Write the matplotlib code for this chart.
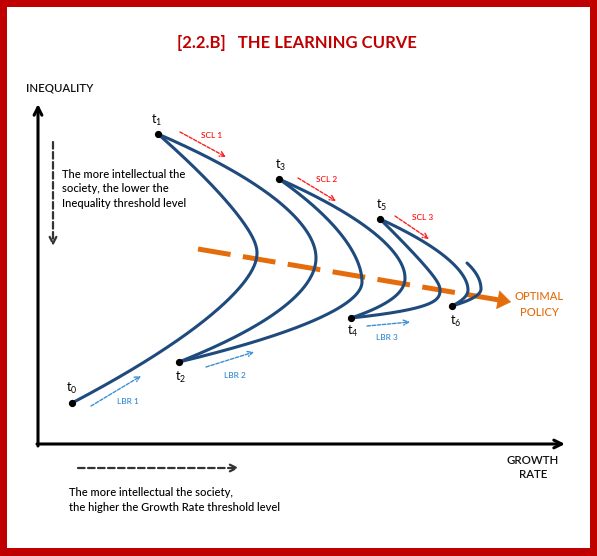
import numpy as np
import matplotlib
matplotlib.use('Agg')
import matplotlib.pyplot as plt
from matplotlib.patches import Rectangle

# ---- diagram data (screen-space coordinates of the conceptual diagram) ----
node_names = ['0', '1', '2', '3', '4', '5', '6']
node_x = [72, 158, 179, 279, 351, 380, 452]
node_y = [403, 134, 362, 179, 318, 219, 306]
# turning points (right-most point) of each learning-curve segment
bulge_x = [257, 316, 362, 405, 440, 468, 481]
bulge_y = [253, 258, 282, 278, 290, 290, 289]
tail_x, tail_y = 467, 263
# curvature shape of each segment near its start node / end node
p_start = [1.5, 1.8, 1.8, 1.75, 3.0, 1.75, 2.0]
p_end = [1.3, 1.9, 1.75, 2.2, 1.1, 2.0, 2.0]
label_dx = [0, -1, 2, 2, 2, 2, 4]
label_dy = [-15, -14, 15, -14, 13, -14, 15]

scl_labels = ['SCL 1', 'SCL 2', 'SCL 3']
scl_start = [(180, 132), (298, 178), (395, 216)]
scl_end = [(226, 157), (336, 201), (429, 239)]
scl_text = [(212, 135), (327, 179), (423, 218)]

lbr_labels = ['LBR 1', 'LBR 2', 'LBR 3']
lbr_start = [(91, 406), (206, 367), (367, 326)]
lbr_end = [(141, 376), (254, 352), (410, 322)]
lbr_text = [(128, 402), (235, 375), (387, 337)]

policy_start = (198, 249)
policy_end = (511, 302)

W, H = 597, 556
FONT = 'Lato'
plt.rcParams['font.family'] = [FONT, 'DejaVu Sans']

fig = plt.figure(figsize=(W / 100, H / 100), dpi=100)
ax = fig.add_axes([0, 0, 1, 1])
ax.set_xlim(0, W)
ax.set_ylim(H, 0)
ax.axis('off')

red = '#C00000'
navy = '#1F4A7D'
orange = '#E46C0A'
blue = '#3A8FD4'
txt_w = 'medium'

# frame
ax.add_patch(Rectangle((0, 0), W, H, facecolor=red, edgecolor='none', zorder=0))
ax.add_patch(Rectangle((7, 7), W - 14, H - 15, facecolor='white', edgecolor='none', zorder=0.5))

# title
ax.text(297, 43, '[2.2.B]   THE LEARNING CURVE', ha='center', va='center',
        fontsize=12, fontweight='bold', color=red)

# axes arrows
ax.annotate('', xy=(38, 104), xytext=(38, 446),
            arrowprops=dict(arrowstyle='->', lw=2.2, color='black', mutation_scale=14,
                            shrinkA=0, shrinkB=0))
ax.annotate('', xy=(565, 444), xytext=(37, 444),
            arrowprops=dict(arrowstyle='->', lw=2.2, color='black', mutation_scale=14,
                            shrinkA=0, shrinkB=0))
ax.text(26, 88, 'INEQUALITY', ha='left', va='center', fontsize=8.2, color='#111111',
        fontweight='semibold')
ax.text(533, 460, 'GROWTH', ha='center', va='center', fontsize=8.2, color='#111111',
        fontweight='semibold')
ax.text(533, 475, 'RATE', ha='center', va='center', fontsize=8.2, color='#111111',
        fontweight='semibold')

# threshold arrows
ax.annotate('', xy=(53, 246), xytext=(53, 142),
            arrowprops=dict(arrowstyle='->', lw=1.6, ls=(0, (3, 1.5)), color='#333333',
                            mutation_scale=12, shrinkA=0, shrinkB=0))
ax.annotate('', xy=(239, 468), xytext=(78, 468),
            arrowprops=dict(arrowstyle='->', lw=1.6, ls=(0, (3, 1.5)), color='#333333',
                            mutation_scale=12, shrinkA=0, shrinkB=0))
ax.text(62, 189, 'The more intellectual the\nsociety, the lower the\nInequality threshold level',
        ha='left', va='center', fontsize=8, color='black', linespacing=1.4, fontweight=txt_w)
ax.text(69, 500, 'The more intellectual the society,\nthe higher the Growth Rate threshold level',
        ha='left', va='center', fontsize=8, color='black', linespacing=1.4, fontweight=txt_w)

# learning curves: x(y) profile with a rounded turning point
ROUND = 0.12

def seg(x0, y0, xb, yb, p, n=120):
    yy = np.linspace(y0, yb, n)
    u = np.abs((yy - yb) / (y0 - yb))
    f = ((u ** 2 + ROUND ** 2) ** (p / 2) - ROUND ** p) / ((1 + ROUND ** 2) ** (p / 2) - ROUND ** p)
    xx = xb - (xb - x0) * f
    return xx, yy

ends_x = node_x[1:] + [tail_x]
ends_y = node_y[1:] + [tail_y]
for i in range(len(bulge_x)):
    xa, ya = seg(node_x[i], node_y[i], bulge_x[i], bulge_y[i], p_start[i])
    xb_, yb_ = seg(ends_x[i], ends_y[i], bulge_x[i], bulge_y[i], p_end[i])
    xs = np.concatenate([xa, xb_[::-1]])
    ys = np.concatenate([ya, yb_[::-1]])
    ax.plot(xs, ys, color=navy, lw=2.2, solid_capstyle='round', zorder=3)

# optimal policy arrow: dashed shaft + solid head
px0, py0 = policy_start
px1, py1 = policy_end
ux, uy = px1 - px0, py1 - py0
L = np.hypot(ux, uy)
head_len = 13
bx, by = px1 - ux / L * head_len, py1 - uy / L * head_len
ax.plot([px0, bx], [py0, by], color=orange, lw=3.6, ls=(0, (6.6, 2.5)),
        solid_capstyle='butt', dash_capstyle='butt', zorder=2)
ax.annotate('', xy=policy_end, xytext=(bx - ux / L * 3, by - uy / L * 3),
            arrowprops=dict(arrowstyle='-|>,head_length=0.45,head_width=0.32', lw=0.5,
                            color=orange, mutation_scale=20, shrinkA=0, shrinkB=0), zorder=2)
ax.text(539, 297, 'OPTIMAL', ha='center', va='center', fontsize=8, color=orange,
        fontweight=txt_w)
ax.text(539, 313, 'POLICY', ha='center', va='center', fontsize=8, color=orange,
        fontweight=txt_w)

# nodes
ax.plot(node_x, node_y, 'o', color='black', ms=4.2, zorder=5)
for nm, x, y, dx, dy in zip(node_names, node_x, node_y, label_dx, label_dy):
    ax.text(x + dx, y + dy, r'$\mathregular{t_{%s}}$' % nm, ha='center', va='center',
            fontsize=9, color='black')

# SCL / LBR arrows
for lab, s, e, t in zip(scl_labels, scl_start, scl_end, scl_text):
    ax.annotate('', xy=e, xytext=s,
                arrowprops=dict(arrowstyle='->', lw=1.0, ls=(0, (2.5, 1.2)), color='#FF2020',
                                mutation_scale=9, shrinkA=0, shrinkB=0))
    ax.text(t[0], t[1], lab, ha='center', va='center', fontsize=6, color='#FF0000',
            fontweight=txt_w)
for lab, s, e, t in zip(lbr_labels, lbr_start, lbr_end, lbr_text):
    ax.annotate('', xy=e, xytext=s,
                arrowprops=dict(arrowstyle='->', lw=1.0, ls=(0, (2.5, 1.2)), color=blue,
                                mutation_scale=9, shrinkA=0, shrinkB=0))
    ax.text(t[0], t[1], lab, ha='center', va='center', fontsize=6, color='#2E86D0',
            fontweight=txt_w)

fig.savefig('out.png', dpi=100)
